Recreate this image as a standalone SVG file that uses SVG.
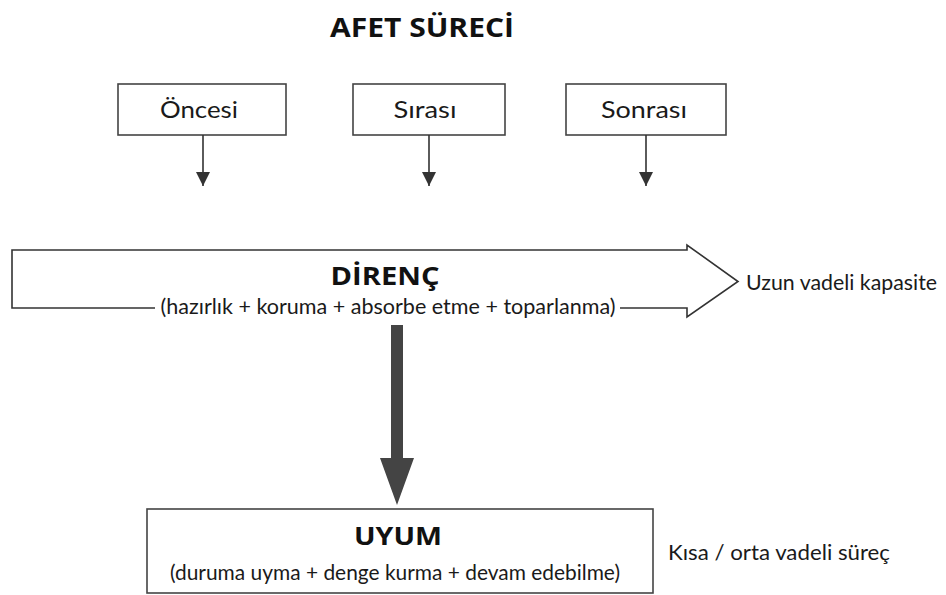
<svg xmlns="http://www.w3.org/2000/svg" width="946" height="595" viewBox="0 0 946 595">
  <defs>
    <style>
      .bg { fill: #ffffff; }
      .box { fill: #ffffff; stroke: #444444; stroke-width: 1.6; }
      .title { font-family: "Open Sans", "Lato", "DejaVu Sans", sans-serif; font-weight: 700; fill: #111111; }
      .label { font-family: "Lato", "Open Sans", "DejaVu Sans", sans-serif; fill: #1a1a1a; }
      .thin { stroke: #333333; stroke-width: 1.6; fill: none; }
    </style>
    <marker id="tip" viewBox="0 0 14 14" refX="14" refY="7" markerWidth="14" markerHeight="14" markerUnits="userSpaceOnUse" orient="auto">
      <path d="M0,0 L14,7 L0,14 Z" fill="#333333"/>
    </marker>
  </defs>

  <rect class="bg" x="0" y="0" width="946" height="595"/>

  <!-- heading -->
  <text class="title" x="422" y="37" font-size="26" text-anchor="middle" textLength="184" lengthAdjust="spacingAndGlyphs">AFET SÜRECİ</text>

  <!-- phase boxes -->
  <g id="node-oncesi">
    <rect class="box" x="118" y="84" width="168" height="51"/>
    <text class="label" x="199" y="118" font-size="23" text-anchor="middle" textLength="78" lengthAdjust="spacingAndGlyphs">Öncesi</text>
  </g>
  <g id="node-sirasi">
    <rect class="box" x="353" y="84" width="152" height="51"/>
    <text class="label" x="425" y="118" font-size="23" text-anchor="middle" textLength="63" lengthAdjust="spacingAndGlyphs">Sırası</text>
  </g>
  <g id="node-sonrasi">
    <rect class="box" x="566" y="84" width="160" height="51"/>
    <text class="label" x="644" y="118" font-size="23" text-anchor="middle" textLength="86" lengthAdjust="spacingAndGlyphs">Sonrası</text>
  </g>

  <!-- resilience band -->
  <g id="node-direnc">
    <path d="M12,250 L687,250 L687,245 L738,281.5 L687,317 L687,308 L620,308 M155,308 L12,308 Z" fill="#ffffff" stroke="none"/>
    <path class="thin" d="M155,308 L12,308 L12,250 L687,250 L687,245 L738,281.5 L687,317 L687,308 L620,308"/>
    <text class="title" x="385" y="285" font-size="25" text-anchor="middle" textLength="109" lengthAdjust="spacingAndGlyphs">DİRENÇ</text>
    <text class="label" x="388" y="314" font-size="21" text-anchor="middle" textLength="455" lengthAdjust="spacingAndGlyphs">(hazırlık + koruma + absorbe etme + toparlanma)</text>
  </g>
  <g id="label-uzun">
    <text class="label" x="746" y="290" font-size="21" textLength="191" lengthAdjust="spacingAndGlyphs">Uzun vadeli kapasite</text>
  </g>

  <!-- adaptation box -->
  <g id="node-uyum">
    <rect class="box" x="147" y="509" width="506" height="84"/>
    <text class="title" x="398" y="545" font-size="25" text-anchor="middle" textLength="88" lengthAdjust="spacingAndGlyphs">UYUM</text>
    <text class="label" x="395" y="580" font-size="22" text-anchor="middle" textLength="450" lengthAdjust="spacingAndGlyphs">(duruma uyma + denge kurma + devam edebilme)</text>
  </g>
  <g id="label-kisa">
    <text class="label" x="668" y="560" font-size="22" textLength="222" lengthAdjust="spacingAndGlyphs">Kısa / orta vadeli süreç</text>
  </g>

  <!-- connectors -->
  <g id="connectors">
    <line class="thin" x1="203" y1="135" x2="203" y2="186" marker-end="url(#tip)"/>
    <line class="thin" x1="429" y1="135" x2="429" y2="186" marker-end="url(#tip)"/>
    <line class="thin" x1="646" y1="135" x2="646" y2="186" marker-end="url(#tip)"/>
    <path d="M391,325 L403,325 L403,458 L414,458 L397,505 L380,458 L391,458 Z" fill="#444444"/>
  </g>
</svg>
